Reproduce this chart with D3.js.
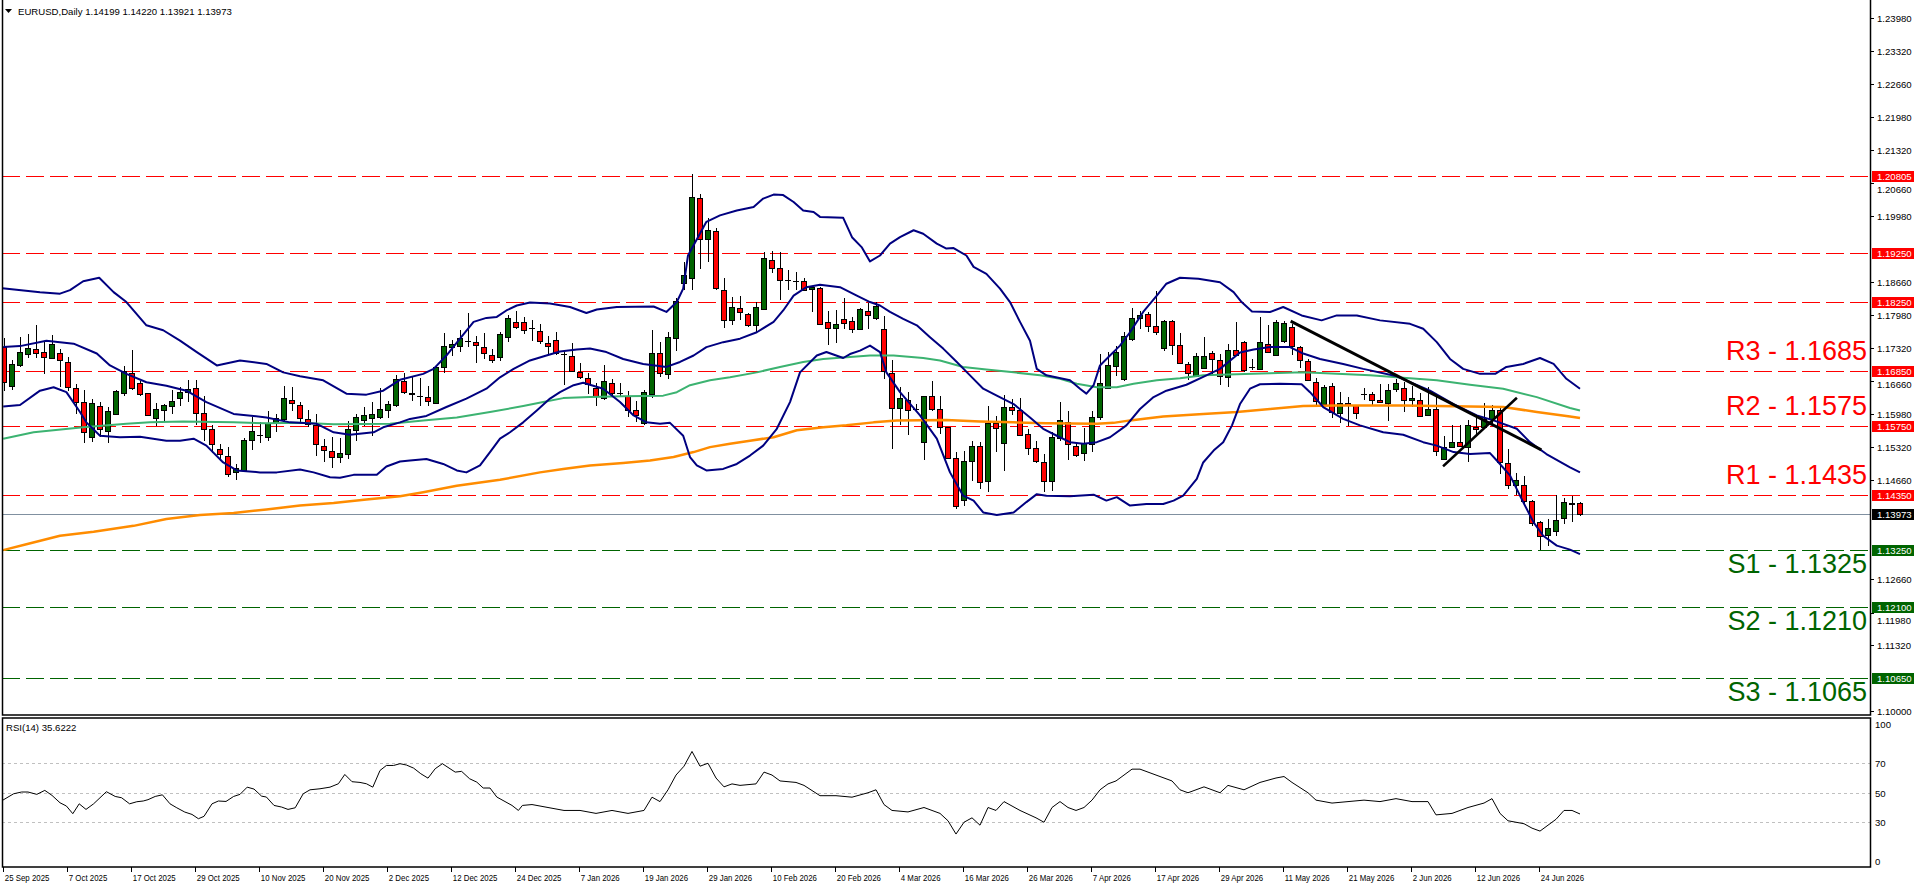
<!DOCTYPE html>
<html>
<head>
<meta charset="utf-8">
<script src="https://cdn.jsdelivr.net/npm/d3@7"></script>
<style>
html, body { margin: 0; padding: 0; background: #fff; overflow: hidden; }
svg { display: block; }
text { font-family: "Liberation Sans", Arial, sans-serif; }
</style>
</head>
<body>
<svg width="1916" height="888"></svg>
<script>
// EURUSD daily candles, bar 0 = 25 Sep 2025
const opens = [1.1734,1.1655,1.1697,1.1719,1.1730,1.1724,1.1712,1.1722,1.1704,1.1651,1.1623,1.1552,1.1615,1.1564,1.1599,1.1641,1.1682,1.1661,1.1641,1.1590,
1.1606,1.1615,1.1631,1.1643,1.1651,1.1601,1.1568,1.1528,1.1515,1.1481,1.1485,1.1545,1.1557,1.1552,1.1580,1.1588,1.1627,1.1617,1.1588,1.1576,
1.1535,1.1524,1.1512,1.1518,1.1566,1.1586,1.1590,1.1592,1.1607,1.1616,1.1665,1.1642,1.1636,1.1633,1.1621,1.1694,1.1734,1.1736,1.1746,1.1744,
1.1734,1.1719,1.1714,1.1754,1.1785,1.1785,1.1772,1.1766,1.1742,1.1748,1.1721,1.1717,1.1683,1.1671,1.1652,1.1630,1.1662,1.1642,1.1636,1.1607,
1.1580,1.1640,1.1722,1.1680,1.1752,1.1863,1.1874,1.2035,1.1953,1.1968,1.1849,1.1788,1.1813,1.1801,1.1778,1.1810,1.1910,1.1894,1.1869,1.1868,
1.1867,1.1850,1.1853,1.1785,1.1772,1.1791,1.1786,1.1770,1.1806,1.1793,1.1770,1.1681,1.1611,1.1627,1.1610,1.1543,1.1635,1.1609,1.1572,1.1510,
1.1425,1.1504,1.1534,1.1463,1.1580,1.1540,1.1613,1.1607,1.1558,1.1530,1.1502,1.1463,1.1550,1.1582,1.1535,1.1520,1.1537,1.1592,1.1652,1.1697,
1.1669,1.1751,1.1791,1.1800,1.1776,1.1733,1.1787,1.1739,1.1700,1.1677,1.1692,1.1723,1.1708,1.1675,1.1729,1.1744,1.1693,1.1690,1.1741,1.1719,
1.1746,1.1774,1.1734,1.1706,1.1663,1.1619,1.1655,1.1601,1.1621,1.1617,1.1639,1.1640,1.1628,1.1621,1.1648,1.1652,1.1628,1.1628,1.1596,1.1608,
1.1508,1.1532,1.1542,1.1533,1.1572,1.1572,1.1587,1.1606,1.1500,1.1456,1.1456,1.1424,1.1380,1.1353,1.1363,1.1388,1.1418,1.14199];
const highs = [1.1752,1.1707,1.1754,1.1760,1.1779,1.1744,1.1759,1.1731,1.1714,1.1660,1.1648,1.1630,1.1623,1.1613,1.1648,1.1695,1.1729,1.1665,1.1641,1.1622,
1.1619,1.1648,1.1653,1.1668,1.1667,1.1636,1.1576,1.1539,1.1532,1.1498,1.1551,1.1592,1.1582,1.1605,1.1598,1.1656,1.1654,1.1623,1.1607,1.1598,
1.1549,1.1552,1.1551,1.1584,1.1599,1.1613,1.1624,1.1651,1.1626,1.1677,1.1682,1.1673,1.1671,1.1655,1.1697,1.1763,1.1749,1.1768,1.1803,1.1756,
1.1763,1.1731,1.1765,1.1798,1.1807,1.1795,1.1789,1.1780,1.1756,1.1764,1.1724,1.1743,1.1702,1.1682,1.1662,1.1698,1.1669,1.1662,1.1645,1.1626,
1.1648,1.1769,1.1744,1.1764,1.1833,1.1906,1.2083,1.2044,1.1995,1.1975,1.1874,1.1835,1.1838,1.1803,1.1825,1.1926,1.1928,1.1927,1.1889,1.1886,
1.1874,1.1856,1.1856,1.1807,1.1808,1.1833,1.1795,1.1812,1.1824,1.1825,1.1796,1.1707,1.1653,1.1643,1.1619,1.1636,1.1665,1.1636,1.1573,1.1522,
1.1524,1.1545,1.1542,1.1615,1.1595,1.1638,1.1630,1.1631,1.1569,1.1545,1.1518,1.1562,1.1624,1.1605,1.1539,1.1570,1.1605,1.1721,1.1724,1.1737,
1.1764,1.1812,1.1806,1.1805,1.1847,1.1789,1.1789,1.1763,1.1704,1.1723,1.1754,1.1727,1.1721,1.1741,1.1785,1.1747,1.1710,1.1795,1.1778,1.1788,
1.1787,1.1781,1.1737,1.1710,1.1672,1.1658,1.1661,1.1643,1.1634,1.1618,1.1652,1.1643,1.1659,1.1660,1.1670,1.1663,1.1655,1.1642,1.1654,1.1636,
1.1554,1.1577,1.1577,1.1587,1.1590,1.1621,1.1618,1.1614,1.1528,1.1480,1.1473,1.1426,1.1382,1.1387,1.1435,1.1430,1.1434,1.14220];
const lows = [1.1646,1.1648,1.1694,1.1712,1.1712,1.1680,1.1709,1.1653,1.1646,1.1599,1.1540,1.1543,1.1552,1.1540,1.1597,1.1636,1.1648,1.1636,1.1596,1.1574,
1.1584,1.1598,1.1616,1.1623,1.1576,1.1545,1.1520,1.1504,1.1471,1.1466,1.1483,1.1527,1.1540,1.1545,1.1562,1.1578,1.1604,1.1581,1.1572,1.1515,
1.1502,1.1489,1.1500,1.1508,1.1545,1.1575,1.1554,1.1589,1.1590,1.1614,1.1640,1.1626,1.1615,1.1615,1.1619,1.1682,1.1716,1.1725,1.1734,1.1701,
1.1710,1.1702,1.1705,1.1745,1.1771,1.1760,1.1747,1.1741,1.1721,1.1719,1.1657,1.1683,1.1670,1.1640,1.1616,1.1628,1.1633,1.1635,1.1593,1.1582,
1.1576,1.1631,1.1673,1.1669,1.1727,1.1849,1.1849,1.1892,1.1906,1.1849,1.1773,1.1778,1.1788,1.1774,1.1764,1.1808,1.1884,1.1830,1.1849,1.1849,
1.1847,1.1805,1.1780,1.1739,1.1742,1.1771,1.1763,1.1769,1.1771,1.1788,1.1670,1.1528,1.1576,1.1557,1.1603,1.1505,1.1604,1.1559,1.1508,1.1407,
1.1414,1.1464,1.1448,1.1441,1.1523,1.1483,1.1596,1.1554,1.1517,1.1500,1.1441,1.1444,1.1545,1.1507,1.1512,1.1503,1.1522,1.1586,1.1650,1.1675,
1.1665,1.1747,1.1770,1.1764,1.1758,1.1727,1.1719,1.1700,1.1667,1.1673,1.1689,1.1677,1.1658,1.1653,1.1717,1.1683,1.1687,1.1689,1.1723,1.1717,
1.1743,1.1719,1.1692,1.1665,1.1614,1.1617,1.1590,1.1581,1.1574,1.1589,1.1628,1.1615,1.1621,1.1584,1.1644,1.1603,1.1613,1.1595,1.1595,1.1515,
1.1505,1.1530,1.1532,1.1502,1.1555,1.1569,1.1576,1.1477,1.1448,1.1435,1.1415,1.1372,1.1324,1.1333,1.1352,1.1377,1.1380,1.13921];
const closes = [1.1663,1.1700,1.1724,1.1732,1.1722,1.1713,1.1740,1.1707,1.1654,1.1623,1.1562,1.1621,1.1568,1.1605,1.1645,1.1686,1.1651,1.1638,1.1597,1.1609,
1.1617,1.1625,1.1643,1.1649,1.1601,1.1568,1.1537,1.1518,1.1479,1.1490,1.1546,1.1564,1.1556,1.1580,1.1590,1.1631,1.1621,1.1590,1.1578,1.1537,
1.1526,1.1512,1.1520,1.1568,1.1592,1.1596,1.1599,1.1609,1.1619,1.1669,1.1643,1.1640,1.1635,1.1625,1.1694,1.1736,1.1741,1.1752,1.1745,1.1738,
1.1722,1.1708,1.1760,1.1793,1.1774,1.1768,1.1771,1.1746,1.1736,1.1721,1.1720,1.1687,1.1673,1.1659,1.1635,1.1665,1.1642,1.1641,1.1607,1.1597,
1.1643,1.1722,1.1682,1.1754,1.1827,1.1879,1.2037,1.1953,1.1971,1.1852,1.1789,1.1815,1.1805,1.1778,1.1815,1.1913,1.1894,1.1870,1.1868,1.1867,
1.1849,1.1855,1.1781,1.1772,1.1780,1.1783,1.1770,1.1810,1.1797,1.1818,1.1685,1.1611,1.1632,1.1607,1.1609,1.1635,1.1609,1.1572,1.1510,1.1414,
1.1504,1.1534,1.1461,1.1580,1.1569,1.1613,1.1607,1.1557,1.1530,1.1504,1.1463,1.1552,1.1587,1.1537,1.1516,1.1540,1.1592,1.1661,1.1698,1.1725,
1.1756,1.1793,1.1798,1.1776,1.1763,1.1787,1.1739,1.1702,1.1682,1.1717,1.1716,1.1710,1.1675,1.1729,1.1719,1.1687,1.1692,1.1744,1.1724,1.1785,
1.1783,1.1735,1.1707,1.1667,1.1625,1.1653,1.1603,1.1621,1.1616,1.1601,1.1638,1.1628,1.1623,1.1648,1.1661,1.1628,1.1632,1.1596,1.1609,1.1524,
1.1532,1.1542,1.1534,1.1577,1.1567,1.1588,1.1606,1.1500,1.1456,1.1466,1.1424,1.1380,1.1352,1.1368,1.1385,1.1421,1.1420,1.13973];

// indicator lines as [bar, value]
const bbUpper = [[-0.2,1.1853],[4.5,1.1845],[7,1.1842],[8.25,1.1849],[9.9,1.1867],[11.9,1.1874],[13.7,1.1845],[15.3,1.1825],[17.8,1.1778],[19.9,1.1768],[22,1.1747],[24.1,1.1724],[26.6,1.1697],[29.5,1.1707],[32.8,1.1700],[34.9,1.1683],[37,1.1675],[39.9,1.1667],[42.8,1.1640],[45.3,1.1638],[47.4,1.1646],[49.5,1.1668],[52.4,1.1680],[53.7,1.1690],[55.3,1.1717],[57,1.1751],[58.7,1.1785],[60.3,1.1793],[61.6,1.1795],[62.8,1.1808],[64.1,1.1818],[65.75,1.1824],[68.25,1.1822],[70.75,1.1815],[72.8,1.1803],[74.1,1.1810],[76.6,1.1815],[81.2,1.1816],[82.8,1.1805],[84.1,1.1825],[84.9,1.1852],[85.5,1.1919],[87.8,1.1987],[89.5,1.2000],[91.6,1.2010],[93.7,1.2017],[94.9,1.2034],[96.2,1.2042],[97.4,1.2041],[98.7,1.2027],[99.9,1.2010],[101.2,1.2007],[102,1.1997],[104.9,1.1995],[106,1.1956],[107.2,1.1936],[108.25,1.1907],[109.5,1.1919],[110.75,1.1943],[112,1.1956],[113.7,1.1970],[114.9,1.1963],[116.6,1.1943],[117.8,1.1933],[118.7,1.1934],[120.3,1.1919],[121.2,1.1896],[122.8,1.1882],[124.5,1.1852],[125.75,1.1825],[127,1.1785],[128.25,1.1747],[129.1,1.1690],[130.3,1.1677],[133.25,1.1667],[134.5,1.1650],[135.3,1.1640],[136.2,1.1657],[137,1.1697],[138.25,1.1717],[139.5,1.1737],[140.75,1.1764],[142.4,1.1805],[144.1,1.1838],[145.3,1.1862],[147,1.1874],[149.3,1.1872],[152,1.1865],[153.7,1.1845],[154.7,1.1825],[156,1.1806],[158.25,1.1805],[159.9,1.1815],[162.2,1.1798],[164.7,1.1788],[166.6,1.1798],[169.1,1.1798],[172,1.1788],[175.75,1.1781],[177.4,1.1771],[179.1,1.1744],[180.75,1.1710],[182.4,1.1690],[184.5,1.1680],[186.4,1.1680],[187.8,1.1694],[189.9,1.1700],[192,1.1712],[193.7,1.1700],[195.3,1.1670],[197,1.1650]];
const bbMiddle = [[-0.1,1.1734],[2,1.1736],[5.3,1.1747],[8.7,1.1741],[11.6,1.1721],[13.25,1.1697],[15.3,1.1680],[17.8,1.1663],[20.3,1.1656],[22.8,1.1646],[25.3,1.1623],[28.7,1.1599],[32.8,1.1592],[35.75,1.1582],[39.1,1.1579],[41.2,1.1562],[43.25,1.1557],[46.2,1.1562],[47.4,1.1572],[49.5,1.1582],[50.75,1.1589],[52.8,1.1595],[55.3,1.1613],[57.8,1.1630],[60.3,1.1650],[62,1.1673],[63.7,1.1690],[65.75,1.1707],[67.8,1.1717],[69.5,1.1725],[71.6,1.1729],[73.25,1.1731],[75.3,1.1724],[77.4,1.1710],[79.9,1.1700],[82.8,1.1694],[84.5,1.1704],[86.2,1.1717],[87.8,1.1734],[89.9,1.1744],[92,1.1751],[94.1,1.1764],[96.2,1.1785],[97.4,1.1808],[98.7,1.1838],[100.3,1.1855],[102,1.1860],[104.5,1.1855],[106.6,1.1838],[108.25,1.1825],[109.5,1.1818],[110.75,1.1805],[112.4,1.1791],[114.1,1.1778],[115.75,1.1754],[117.4,1.1731],[119.1,1.1704],[120.75,1.1677],[122.4,1.1650],[124.1,1.1636],[126.2,1.1619],[128.25,1.1592],[129.9,1.1569],[131.6,1.1555],[133.25,1.1542],[134.9,1.1539],[136.6,1.1542],[138.25,1.1552],[140.3,1.1576],[142,1.1609],[143.7,1.1633],[145.3,1.1646],[147.8,1.1658],[150.3,1.1677],[152,1.1690],[154.5,1.1723],[156.2,1.1729],[158.25,1.1734],[160.75,1.1734],[162.4,1.1721],[164.5,1.1710],[167.4,1.1700],[169.9,1.1690],[174.1,1.1675],[178.25,1.1646],[181.2,1.1619],[184.1,1.1596],[186.2,1.1586],[189.1,1.1569],[190.75,1.1542],[192.8,1.1518],[195.75,1.1491],[197,1.1481]];
const bbLower = [[-0.1,1.1614],[2,1.1617],[4.5,1.1646],[6.2,1.1653],[7.8,1.1643],[9.5,1.1603],[10.3,1.1582],[12,1.1555],[14.5,1.1552],[17,1.1553],[20.3,1.1545],[22,1.1545],[23.7,1.1549],[25.3,1.1535],[27.4,1.1501],[29.1,1.1485],[32,1.1481],[34.1,1.1481],[37,1.1487],[38.7,1.1481],[40.75,1.1471],[42,1.1470],[43.7,1.1476],[46.6,1.1476],[47.8,1.1493],[49.5,1.1503],[50.75,1.1505],[52.8,1.1508],[54.9,1.1498],[56.6,1.1485],[57.8,1.1481],[59.5,1.1495],[60.75,1.1522],[62,1.1549],[63.25,1.1562],[64.9,1.1582],[66.6,1.1606],[68.25,1.1630],[69.5,1.1643],[71.2,1.1657],[72.4,1.1662],[74.9,1.1650],[77,1.1623],[78.7,1.1596],[80.3,1.1582],[82,1.1579],[83.25,1.1581],[84.9,1.1555],[85.75,1.1512],[86.6,1.1495],[87.8,1.1485],[89.9,1.1488],[91.6,1.1498],[93.25,1.1515],[94.9,1.1535],[96.6,1.1569],[98.25,1.1623],[99.5,1.1683],[101.6,1.1717],[102.8,1.1724],[104.9,1.1712],[105.75,1.1720],[107,1.1727],[108.25,1.1737],[109.5,1.1724],[110.3,1.1683],[112,1.1643],[114.5,1.1596],[116.6,1.1549],[118.25,1.1481],[119.9,1.1434],[121.2,1.1424],[122.4,1.1400],[124.1,1.1395],[126.2,1.1400],[127.8,1.1421],[129.1,1.1437],[130.3,1.1434],[133.25,1.1433],[136.2,1.1436],[137.8,1.1424],[139.1,1.1431],[140.75,1.1414],[142.8,1.1417],[144.9,1.1417],[146.2,1.1424],[147.4,1.1434],[149.1,1.1468],[149.9,1.1501],[151.2,1.1525],[152.4,1.1542],[153.5,1.1576],[154.5,1.1619],[155.75,1.1650],[157,1.1659],[159.5,1.1660],[162.2,1.1659],[163.25,1.1643],[164.9,1.1613],[167.4,1.1589],[169.5,1.1576],[172.4,1.1562],[174.9,1.1557],[177.4,1.1542],[179.1,1.1535],[181.2,1.1522],[183.25,1.1518],[185.75,1.1520],[186.6,1.1505],[188.25,1.1475],[189.9,1.1421],[191.2,1.1380],[192.4,1.1353],[194.1,1.1333],[195.75,1.1325],[197,1.1316]];
const ma100 = [[-0.1,1.1549],[3.7,1.1562],[9.9,1.1572],[15.3,1.1579],[18.25,1.1582],[22.4,1.1584],[28.7,1.1582],[32.8,1.1580],[37,1.1581],[41.2,1.1578],[48.25,1.1579],[52.4,1.1586],[56.6,1.1592],[60.75,1.1603],[64.9,1.1615],[67.4,1.1623],[69.9,1.1631],[73.25,1.1633],[77.4,1.1635],[82.4,1.1636],[84.1,1.1643],[85.75,1.1657],[88.25,1.1667],[90.75,1.1673],[94.1,1.1683],[97,1.1694],[99.9,1.1704],[102.4,1.1710],[108.25,1.1717],[111.2,1.1717],[114.9,1.1712],[117,1.1707],[119.9,1.1694],[122.8,1.1689],[126.2,1.1683],[129.5,1.1677],[132,1.1670],[134.1,1.1660],[136.6,1.1653],[139.1,1.1653],[141.2,1.1660],[144.1,1.1667],[147,1.1671],[149.9,1.1677],[154.1,1.1679],[158.25,1.1681],[162.4,1.1683],[166.6,1.1680],[170.75,1.1677],[174.9,1.1672],[179.1,1.1667],[183.25,1.1658],[187.4,1.1650],[191.6,1.1633],[195.75,1.1611],[197,1.1606]];
const ma200 = [[-0.1,1.1324],[2.8,1.1336],[7,1.1353],[11.2,1.1361],[16.2,1.1373],[20.3,1.1387],[24.5,1.1395],[28.7,1.1399],[32.8,1.1406],[37,1.1414],[41.2,1.1419],[45.3,1.1426],[49.5,1.1433],[52.4,1.1441],[56.6,1.1454],[62,1.1466],[67,1.1481],[69.9,1.1488],[73.25,1.1495],[77.4,1.1500],[80.75,1.1505],[83.7,1.1512],[86.2,1.1522],[88.25,1.1532],[90.75,1.1539],[93.25,1.1545],[96.2,1.1552],[99.1,1.1566],[102.4,1.1572],[105.3,1.1576],[108.7,1.1582],[111.6,1.1586],[117.8,1.1587],[122,1.1584],[126.2,1.1582],[130.3,1.1580],[136.6,1.1579],[138.7,1.1581],[140.75,1.1586],[142.8,1.1590],[144.9,1.1594],[149.9,1.1599],[154.1,1.1603],[158.25,1.1609],[162.4,1.1615],[166.6,1.1616],[174.9,1.1616],[179.1,1.1615],[183.25,1.1614],[187.4,1.1613],[191.6,1.1603],[195.75,1.1594],[197,1.1591]];
const rsi14 = [[-0.2,44.8],[1.2,49.3],[2.2,50.5],[3,50.5],[4.1,48.9],[5.1,51.6],[6,48.2],[7,43.2],[7.8,41],[8.6,35.8],[9.4,42.5],[10.25,38.7],[11.2,42.5],[12,46.6],[12.8,50.7],[13.9,47.5],[14.7,46.6],[15.7,42.5],[16.6,43.9],[17.4,44.4],[18,45.3],[18.9,47.5],[19.8,48.6],[20.75,42.5],[21.6,39.8],[22.6,36.9],[23.5,35.3],[24.3,32.4],[25,34],[26,42.5],[26.8,44.4],[27.75,44.1],[28.7,47.5],[29.5,48.9],[30.4,53.8],[31.25,52.5],[32.2,47.7],[32.8,47.1],[33.75,41.4],[34.7,40.3],[35.5,38.7],[36.4,39.8],[37.4,49.3],[38.25,52],[39.5,52.7],[40.75,53.8],[41.8,56.1],[42.6,62.4],[43.5,57.5],[44.5,57],[45.3,56.1],[46.1,53.8],[47,65.1],[47.8,68.5],[48.7,68.5],[49.5,69.7],[50.3,68.8],[51.2,66.7],[52.1,62.9],[53,59.9],[53.9,66.3],[54.8,69.7],[55.75,66.3],[56.4,64],[57.2,64.5],[58.2,59.5],[59.1,57.2],[59.9,53.2],[60.75,53.2],[61.6,47.1],[62.5,44.4],[63.5,41.4],[64.3,38],[64.8,41.4],
[66,42],[68,40],[70,38],[72,38],[74,36],[76,38],[78,36],[80,38],[81,47],[82,44],[83,52],[84,62],[85,68],[86,78],[87,68],[88,70],[89,60],[90,54],[91,56],[92,55],[94,56],[95,64],[96,62],[97,58],[99,57],[100,55],[102,48],[104,48],[106,47],[108,50],[109,52],[110,42],[111,38],[113,37],[115,40],[117,36],[118,31],[119,22],[120,30],[121,33],[122,28],[123,40],[124,38],[125,44],[127,38],[129,33],[130,30],[131,40],[132,44],[133,40],[134,38],[135,40],[136,45],[137,52],[138,56],[139,58],[140,62],[141,66],[142,66],[144,62],[146,58],[147,52],[148,50],[150,54],[152,50],[153,55],[155,52],[157,57],[159,60],[160,61],[161,57],[163,50],[164,45],[166,43],[168,44],[170,45],[172,44],[174,46],[176,44],[178,44],[179,35],[181,36],[183,40],[185,43],[186,46],[187,36],[188,31],[190,29],[191,26],[192,24],[193,28],[194,32],[195,38],[196,38],[197,35.6]];

// horizontal levels
const levelPrices = [1.20805, 1.19250, 1.18250, 1.16850, 1.15750, 1.14350, 1.13250, 1.12100, 1.10650];
const levelSide   = ["r","r","r","r","r","r","s","s","s"];
const levelNames  = ["", "", "", "R3 - 1.1685", "R2 - 1.1575", "R1 - 1.1435", "S1 - 1.1325", "S2 - 1.1210", "S3 - 1.1065"];
const lastPrice = 1.13973;

// hand drawn trend lines [bar, price]
const trendLines = [
    [[161, 1.1785], [192, 1.1528]],
    [[180, 1.1495], [189, 1.1630]]
];

// axis labels that the price tags do not cover
const priceTicks = ["1.23980","1.23320","1.22660","1.21980","1.21320","1.20660","1.19980","1.18660","1.17980","1.17320",
    "1.16660","1.15980","1.15320","1.14660","1.12660","1.11980","1.11320","1.10000"];
const rsiTicks = [100, 70, 50, 30, 0];
const rsiLevels = [70, 50, 30];
const dateLabels = ["25 Sep 2025","7 Oct 2025","17 Oct 2025","29 Oct 2025","10 Nov 2025","20 Nov 2025","2 Dec 2025","12 Dec 2025",
    "24 Dec 2025","7 Jan 2026","19 Jan 2026","29 Jan 2026","10 Feb 2026","20 Feb 2026","4 Mar 2026","16 Mar 2026","26 Mar 2026",
    "7 Apr 2026","17 Apr 2026","29 Apr 2026","11 May 2026","21 May 2026","2 Jun 2026","12 Jun 2026","24 Jun 2026"];
const barsPerLabel = 8;

const header = "EURUSD,Daily  1.14199 1.14220 1.13921 1.13973";
const rsiHeader = "RSI(14) 35.6222";

// layout
const main = { left: 2, right: 1870, top: 1, bottom: 715 };
const sub = { top: 718, bottom: 867 };
const red = "#ff0000", green = "#006400";

const svg = d3.select("svg");

const x = d3.scaleLinear().domain([-0.25, 233.25]).range([main.left, main.right]);
const y = d3.scaleLinear().domain([1.0991, 1.2433]).range([main.bottom, main.top]);
const yr = d3.scaleLinear().domain([0, 100]).range([866.5, 719]);

const defs = svg.append("defs");
defs.append("clipPath").attr("id", "clipMain").append("rect")
    .attr("x", main.left).attr("y", main.top).attr("width", main.right - main.left).attr("height", main.bottom - main.top);
defs.append("clipPath").attr("id", "clipSub").append("rect")
    .attr("x", main.left).attr("y", sub.top).attr("width", main.right - main.left).attr("height", sub.bottom - sub.top);

const g = svg.append("g").attr("clip-path", "url(#clipMain)");

// level lines
g.selectAll(".lvl")
    .data(levelPrices)
    .enter()
    .append("line")
        .attr("x1", main.left).attr("x2", main.right)
        .attr("y1", d => Math.round(y(d)) + 0.5).attr("y2", d => Math.round(y(d)) + 0.5)
        .attr("stroke", (d, i) => levelSide[i] == "r" ? red : green)
        .attr("stroke-width", 1)
        .attr("stroke-dasharray", "18,6");

// last price line
g.append("line")
    .attr("x1", main.left).attr("x2", main.right)
    .attr("y1", Math.round(y(lastPrice)) + 0.5).attr("y2", Math.round(y(lastPrice)) + 0.5)
    .attr("stroke", "#8090a0").attr("stroke-width", 1);

// candles
const candles = opens.map((o, i) => ({ i: i, o: o, h: highs[i], l: lows[i], c: closes[i] }));
const cg = g.append("g").attr("shape-rendering", "crispEdges");
cg.selectAll(".wick")
    .data(candles)
    .enter()
    .append("line")
        .attr("x1", d => x(d.i) + 0.5).attr("x2", d => x(d.i) + 0.5)
        .attr("y1", d => y(d.h)).attr("y2", d => y(d.l))
        .attr("stroke", "#000").attr("stroke-width", 1);
cg.selectAll(".body")
    .data(candles)
    .enter()
    .append("rect")
        .attr("x", d => x(d.i) - 2.5)
        .attr("width", 5)
        .attr("y", d => Math.round(y(Math.max(d.o, d.c))) + 0.5)
        .attr("height", d => Math.max(0.01, Math.round(Math.abs(y(d.o) - y(d.c)))))
        .attr("fill", d => d.c >= d.o ? green : red)
        .attr("stroke", "#000").attr("stroke-width", 1);

// indicators
const line = d3.line().x(d => x(d[0])).y(d => y(d[1]));
const series = [
    { data: ma200, color: "#ff8c00", w: 2.5 },
    { data: ma100, color: "#3cb371", w: 2 },
    { data: bbUpper, color: "#000080", w: 2 },
    { data: bbMiddle, color: "#000080", w: 2 },
    { data: bbLower, color: "#000080", w: 2 }
];
g.selectAll(".ind")
    .data(series)
    .enter()
    .append("path")
        .attr("d", d => line(d.data))
        .attr("fill", "none")
        .attr("stroke", d => d.color)
        .attr("stroke-width", d => d.w)
        .attr("stroke-linejoin", "round");

// trend lines
g.selectAll(".trend")
    .data(trendLines)
    .enter()
    .append("line")
        .attr("x1", d => x(d[0][0])).attr("y1", d => y(d[0][1]))
        .attr("x2", d => x(d[1][0])).attr("y2", d => y(d[1][1]))
        .attr("stroke", "#000")
        .attr("stroke-width", (d, i) => i == 0 ? 3 : 2.5)
        .attr("stroke-linecap", "square");

// level names
g.selectAll(".lvlname")
    .data(levelPrices.map((p, i) => ({ p: p, i: i })).filter(d => levelNames[d.i] != ""))
    .enter()
    .append("text")
        .attr("x", 1867)
        .attr("y", d => levelSide[d.i] == "r" ? y(d.p) - 11 : y(d.p) + 23)
        .attr("text-anchor", "end")
        .attr("font-size", "27px")
        .attr("fill", d => levelSide[d.i] == "r" ? red : green)
        .text(d => levelNames[d.i]);

// header
svg.append("path")
    .attr("d", "M5,9 L12,9 L8.5,13 Z").attr("fill", "#000");
svg.append("text")
    .attr("x", 18).attr("y", 15)
    .attr("font-size", "9.6px")
    .attr("fill", "#000")
    .text(header);

// RSI panel
const rg = svg.append("g").attr("clip-path", "url(#clipSub)");
rg.selectAll(".rlvl")
    .data(rsiLevels)
    .enter()
    .append("line")
        .attr("x1", main.left).attr("x2", main.right)
        .attr("y1", d => Math.round(yr(d)) + 0.5).attr("y2", d => Math.round(yr(d)) + 0.5)
        .attr("stroke", "#c0c0c0").attr("stroke-dasharray", "3,3");
rg.append("path")
    .attr("d", d3.line().x(d => x(d[0])).y(d => yr(d[1]))(rsi14))
    .attr("fill", "none").attr("stroke", "#000").attr("stroke-width", 1);
svg.append("text")
    .attr("x", 6).attr("y", 731)
    .attr("font-size", "9.6px")
    .text(rsiHeader);

// frames
svg.append("rect")
    .attr("x", main.left + 0.5).attr("y", main.top - 2).attr("width", main.right - main.left).attr("height", main.bottom - main.top + 2)
    .attr("fill", "none").attr("stroke", "#000").attr("stroke-width", 1.5);
svg.append("rect")
    .attr("x", main.left + 0.5).attr("y", sub.top).attr("width", main.right - main.left).attr("height", sub.bottom - sub.top)
    .attr("fill", "none").attr("stroke", "#000").attr("stroke-width", 1.5);

// price axis; a label sitting just under a tag is pushed clear of it
const tagPrices = levelPrices.concat([lastPrice]);
function labelY(p) {
    let yy = y(p);
    tagPrices.forEach(t => {
        const ty = y(t);
        if (yy > ty && yy - ty < 13) yy = ty + 13;
    });
    return yy;
}
const pa = svg.append("g");
pa.selectAll(".pt")
    .data(priceTicks)
    .enter()
    .append("g")
        .each(function(d) {
            const yt = Math.round(y(+d));
            d3.select(this).append("line").attr("x1", main.right).attr("x2", main.right + 4)
                .attr("y1", yt + 0.5).attr("y2", yt + 0.5).attr("stroke", "#000");
            d3.select(this).append("text").attr("x", main.right + 7).attr("y", Math.round(labelY(+d)) + 4)
                .attr("font-size", "9.6px").text(d);
        });

// price tags
const tags = levelPrices.map((p, i) => ({ p: p, fill: levelSide[i] == "r" ? red : green }));
tags.push({ p: lastPrice, fill: "#000" });
const tg = pa.selectAll(".tag")
    .data(tags)
    .enter()
    .append("g")
        .attr("transform", d => "translate(0," + Math.round(y(d.p)) + ")");
tg.append("rect")
    .attr("x", main.right + 2).attr("y", -5).attr("width", 42).attr("height", 11)
    .attr("fill", d => d.fill);
tg.append("text")
    .attr("x", main.right + 7).attr("y", 4)
    .attr("font-size", "9.6px")
    .attr("fill", "#fff")
    .text(d => d.p.toFixed(5));

// rsi axis
svg.selectAll(".rt")
    .data(rsiTicks)
    .enter()
    .append("text")
        .attr("x", main.right + 5)
        .attr("y", d => d == 100 ? yr(d) + 9 : d == 0 ? yr(d) - 2 : yr(d) + 4)
        .attr("font-size", "9.6px")
        .text(d => d);

// date axis
const da = svg.append("g");
da.selectAll(".dt")
    .data(dateLabels)
    .enter()
    .append("g")
        .attr("transform", (d, i) => "translate(" + Math.round(x(i * barsPerLabel)) + ",0)")
        .each(function(d) {
            d3.select(this).append("line").attr("x1", -0.5).attr("x2", -0.5)
                .attr("y1", sub.bottom).attr("y2", sub.bottom + 5).attr("stroke", "#000");
            d3.select(this).append("text").attr("x", 1).attr("y", 881)
                .attr("font-size", "9.6px")
                .attr("transform", "scale(0.82,1)")
                .text(d);
        });
</script>
</body>
</html>
